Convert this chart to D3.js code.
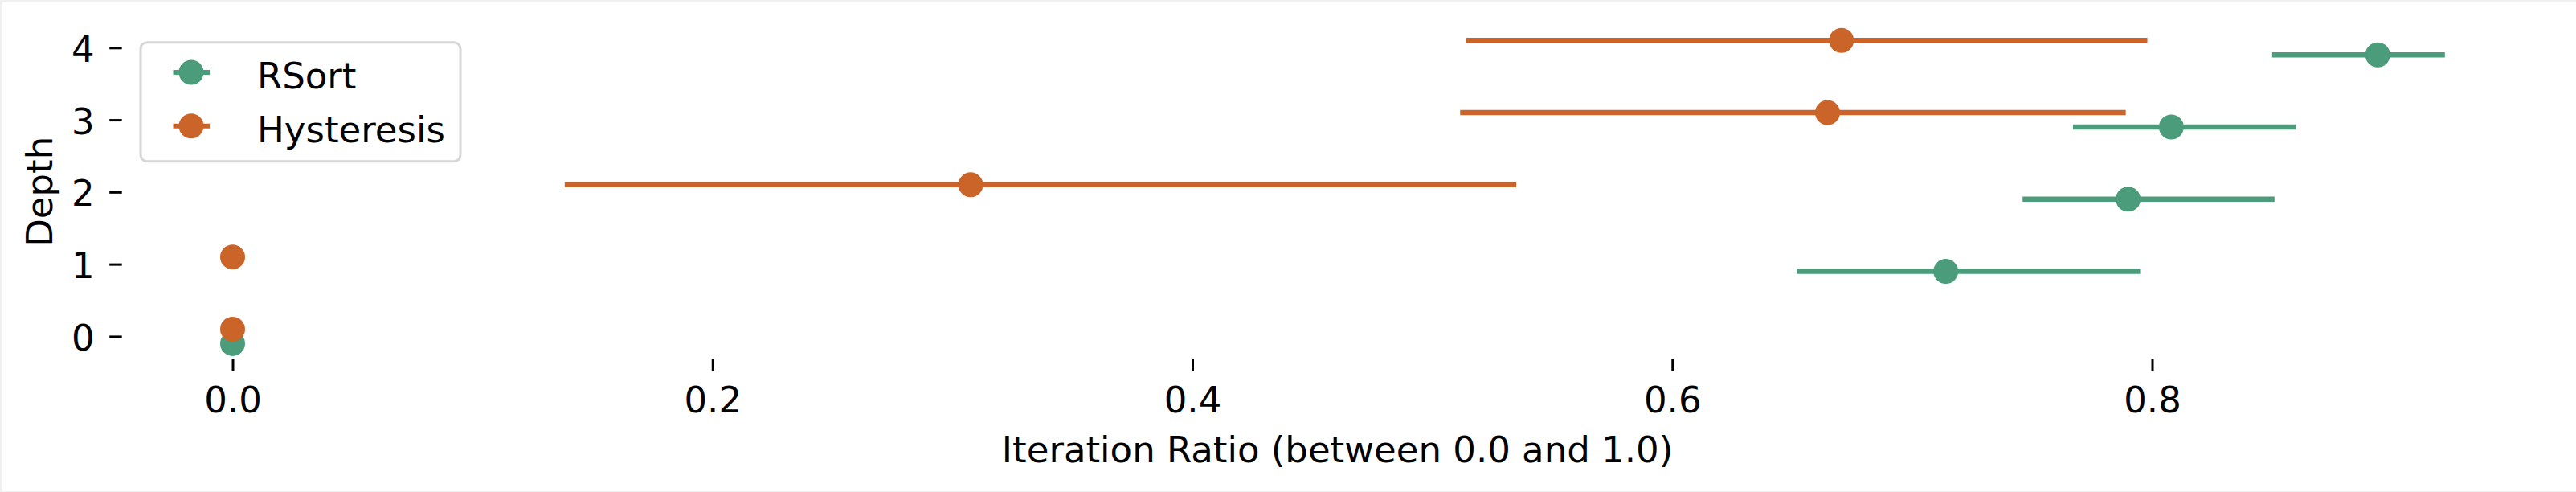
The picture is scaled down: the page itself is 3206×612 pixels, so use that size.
<!DOCTYPE html>
<html>
<head>
<meta charset="utf-8">
<script src="https://cdn.jsdelivr.net/npm/d3@7"></script>
<style>
  body { margin: 0; background: #f0f0f0; }
  #chart text { font-family: 'DejaVu Sans', sans-serif; fill: #000; }
</style>
</head>
<body>
<div id="chart"></div>
<script>
const depths = [0, 1, 2, 3, 4]
const xTicks = [0.0, 0.2, 0.4, 0.6, 0.8]

const seriesNames = ['RSort', 'Hysteresis']
const rsortMean = [0.0, 0.714, 0.790, 0.808, 0.894]
const rsortLow = [0.0, 0.652, 0.746, 0.767, 0.850]
const rsortHigh = [0.0, 0.795, 0.851, 0.860, 0.922]
const hystMean = [0.0, 0.0, 0.3076, 0.6647, 0.6705]
const hystLow = [0.0, 0.0, 0.1384, 0.5116, 0.514]
const hystHigh = [0.0, 0.0, 0.535, 0.789, 0.798]

const canvasWidth = 3206
const canvasHeight = 612
const colors = {RSort: '#4a9c7b', Hysteresis: '#cb6428'}
const dodge = {RSort: -0.1, Hysteresis: 0.1}
const fontSize = 45

const xScale = d3.scaleLinear().domain([0, 0.8]).range([289.5, 2678.5])
const yScale = d3.scaleLinear().domain([0, 4]).range([418.4, 59.3])

const series = [
  {name: 'RSort', mean: rsortMean, low: rsortLow, high: rsortHigh},
  {name: 'Hysteresis', mean: hystMean, low: hystLow, high: hystHigh},
]

const svg = d3
  .select('#chart')
  .append('svg')
  .attr('width', canvasWidth)
  .attr('height', canvasHeight)
  .style('display', 'block')

svg
  .append('rect')
  .attr('x', 3)
  .attr('y', 3)
  .attr('width', canvasWidth - 3)
  .attr('height', canvasHeight - 4)
  .attr('fill', '#fff')

// axes, no spines
const xAxis = svg
  .append('g')
  .attr('transform', 'translate(0, 446.7)')
  .call(
    d3
      .axisBottom(xScale)
      .tickValues(xTicks)
      .tickFormat(d3.format('.1f'))
      .tickSize(15)
      .tickPadding(19.5),
  )
xAxis.select('.domain').remove()
xAxis.selectAll('line').attr('stroke', '#000').attr('stroke-width', 3)
xAxis
  .selectAll('text')
  .attr('font-size', fontSize)
  .attr('font-family', 'DejaVu Sans')

const yAxis = svg
  .append('g')
  .attr('transform', 'translate(151.7, 0)')
  .call(
    d3
      .axisLeft(yScale)
      .tickValues(depths)
      .tickFormat(d3.format('d'))
      .tickSize(15.5)
      .tickPadding(18.5),
  )
yAxis.select('.domain').remove()
yAxis.selectAll('line').attr('stroke', '#000').attr('stroke-width', 3)
yAxis
  .selectAll('text')
  .attr('font-size', fontSize)
  .attr('font-family', 'DejaVu Sans')
  .attr('dy', '0.38em')

svg
  .append('text')
  .attr('x', 1664.5)
  .attr('y', 575)
  .attr('font-size', fontSize)
  .style('text-anchor', 'middle')
  .text('Iteration Ratio (between 0.0 and 1.0)')

svg
  .append('text')
  .attr('transform', 'translate(65, 238.3) rotate(-90)')
  .attr('font-size', fontSize)
  .style('text-anchor', 'middle')
  .text('Depth')

// error bars + points
series.forEach(s => {
  const g = svg.append('g')
  const rows = depths.map((d, i) => ({
    y: yScale(d + dodge[s.name]),
    mean: s.mean[i],
    low: s.low[i],
    high: s.high[i],
  }))
  g.selectAll('line')
    .data(rows)
    .enter()
    .append('line')
    .attr('x1', r => xScale(r.low))
    .attr('x2', r => xScale(r.high))
    .attr('y1', r => r.y)
    .attr('y2', r => r.y)
    .attr('stroke', colors[s.name])
    .attr('stroke-width', 6.5)
  g.selectAll('circle')
    .data(rows)
    .enter()
    .append('circle')
    .attr('cx', r => xScale(r.mean))
    .attr('cy', r => r.y)
    .attr('r', 15.5)
    .attr('fill', colors[s.name])
})

// legend
const legend = svg.append('g')
legend
  .append('rect')
  .attr('x', 175)
  .attr('y', 52.7)
  .attr('width', 398)
  .attr('height', 148)
  .attr('rx', 8)
  .attr('fill', '#fff')
  .attr('fill-opacity', 0.8)
  .attr('stroke', '#d6d6d6')
  .attr('stroke-width', 3)

seriesNames.forEach((name, i) => {
  const cy = 90 + i * 66.7
  legend
    .append('line')
    .attr('x1', 215.5)
    .attr('x2', 261)
    .attr('y1', cy)
    .attr('y2', cy)
    .attr('stroke', colors[name])
    .attr('stroke-width', 6)
  legend
    .append('circle')
    .attr('cx', 238)
    .attr('cy', cy)
    .attr('r', 15.5)
    .attr('fill', colors[name])
  legend
    .append('text')
    .attr('x', 320)
    .attr('y', cy + 20)
    .attr('font-size', fontSize)
    .text(name)
})
</script>
</body>
</html>
